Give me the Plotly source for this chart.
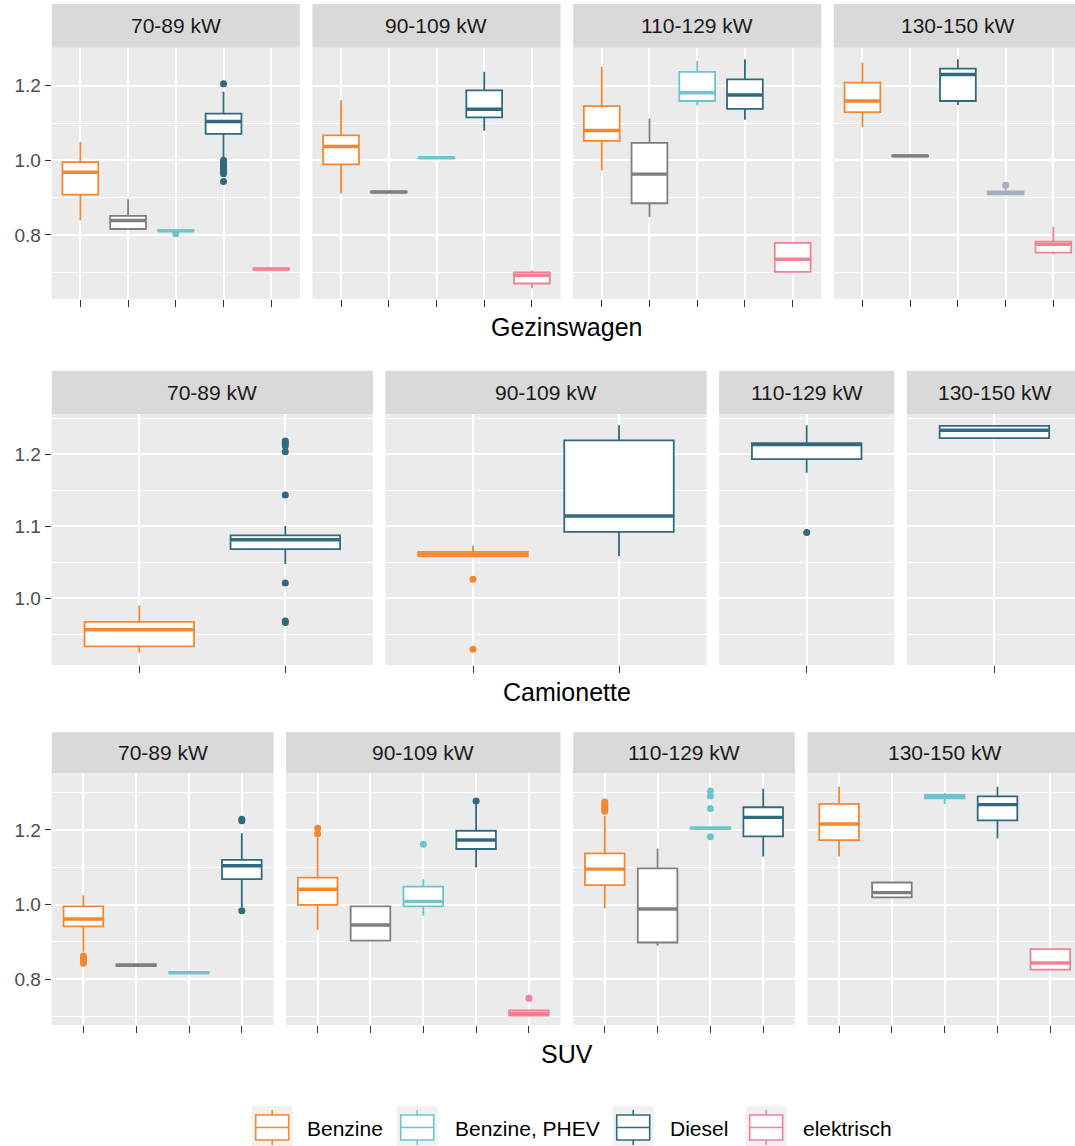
import plotly.graph_objects as go

# ---------------------------------------------------------------- data
POWER_BANDS = ["70-89 kW", "90-109 kW", "110-129 kW", "130-150 kW"]
VEHICLE_CLASSES = ["Gezinswagen", "Camionette", "SUV"]

FUEL_COLORS = {
    "Benzine": "#F7872E",
    "Benzine, PHEV": "#6CC4D3",
    "Diesel": "#2F6A80",
    "elektrisch": "#F48092",
    "overig": "#7F7F7F",
    "overig, diesel": "#A3AFBD",
}
LEGEND_FUELS = ["Benzine", "Benzine, PHEV", "Diesel", "elektrisch"]

# Gezinswagen
GEZ_PANEL = [0, 0, 0, 0, 0, 1, 1, 1, 1, 1, 2, 2, 2, 2, 2, 3, 3, 3, 3, 3]
GEZ_FUEL = ["Benzine", "overig", "Benzine, PHEV", "Diesel", "elektrisch",
            "Benzine", "overig", "Benzine, PHEV", "Diesel", "elektrisch",
            "Benzine", "overig", "Benzine, PHEV", "Diesel", "elektrisch",
            "Benzine", "overig", "Diesel", "overig, diesel", "elektrisch"]
GEZ_LO = [0.839, 0.816, 0.811, 1.004, 0.708, 0.911, 0.914, 1.006, 1.079, 0.657,
          0.973, 0.848, 1.147, 1.109, 0.701, 1.089, 1.011, 1.148, 0.909, 0.748]
GEZ_Q1 = [0.908, 0.816, 0.811, 1.071, 0.708, 0.989, 0.914, 1.006, 1.115, 0.670,
          1.052, 0.885, 1.159, 1.138, 0.701, 1.129, 1.011, 1.159, 0.909, 0.753]
GEZ_MED = [0.968, 0.839, 0.811, 1.104, 0.709, 1.037, 0.915, 1.007, 1.137, 0.692,
           1.080, 0.963, 1.181, 1.175, 0.735, 1.159, 1.012, 1.230, 0.913, 0.775]
GEZ_Q3 = [0.995, 0.851, 0.812, 1.125, 0.710, 1.067, 0.916, 1.008, 1.1875, 0.700,
          1.145, 1.047, 1.237, 1.217, 0.779, 1.208, 1.013, 1.246, 0.917, 0.782]
GEZ_HI = [1.049, 0.896, 0.812, 1.184, 0.710, 1.161, 0.916, 1.008, 1.2375, 0.705,
          1.251, 1.112, 1.266, 1.271, 0.779, 1.262, 1.013, 1.271, 0.928, 0.822]
GEZ_OUT = [[], [], [0.803],
           [1.205, 1.000, 0.996, 0.992, 0.988, 0.984, 0.980, 0.976, 0.972, 0.968, 0.964, 0.943],
           [], [], [], [], [], [],
           [], [], [], [], [],
           [], [], [], [0.933], []]

# Camionette
CAM_PANEL = [0, 0, 1, 1, 2, 3]
CAM_FUEL = ["Benzine", "Diesel", "Benzine", "Diesel", "Diesel", "Diesel"]
CAM_LO = [0.924, 1.047, 1.058, 1.058, 1.174, 1.222]
CAM_Q1 = [0.933, 1.068, 1.058, 1.092, 1.193, 1.222]
CAM_MED = [0.956, 1.081, 1.061, 1.114, 1.213, 1.233]
CAM_Q3 = [0.967, 1.087, 1.064, 1.219, 1.215, 1.239]
CAM_HI = [0.990, 1.100, 1.073, 1.240, 1.240, 1.239]
CAM_OUT = [[], [1.218, 1.215, 1.211, 1.203, 1.143, 1.021, 0.968, 0.966],
           [1.026, 0.929], [], [1.091], []]

# SUV
SUV_PANEL = [0, 0, 0, 0, 1, 1, 1, 1, 1, 2, 2, 2, 2, 3, 3, 3, 3, 3]
SUV_FUEL = ["Benzine", "overig", "Benzine, PHEV", "Diesel",
            "Benzine", "overig", "Benzine, PHEV", "Diesel", "elektrisch",
            "Benzine", "overig", "Benzine, PHEV", "Diesel",
            "Benzine", "overig", "Benzine, PHEV", "Diesel", "elektrisch"]
SUV_LO = [0.873, 0.835, 0.815, 0.993, 0.931, 0.903, 0.970, 1.099, 0.702,
          0.989, 0.889, 1.203, 1.129, 1.129, 1.019, 1.269, 1.177, 0.825]
SUV_Q1 = [0.941, 0.835, 0.815, 1.068, 0.999, 0.903, 0.995, 1.149, 0.702,
          1.052, 0.898, 1.203, 1.183, 1.173, 1.019, 1.285, 1.226, 0.825]
SUV_MED = [0.961, 0.837, 0.817, 1.104, 1.041, 0.945, 1.008, 1.173, 0.708,
           1.095, 0.988, 1.205, 1.234, 1.216, 1.032, 1.289, 1.268, 0.843]
SUV_Q3 = [0.995, 0.839, 0.819, 1.120, 1.072, 0.995, 1.048, 1.198, 0.716,
          1.137, 1.097, 1.207, 1.261, 1.270, 1.059, 1.294, 1.290, 0.880]
SUV_HI = [1.025, 0.839, 0.819, 1.191, 1.180, 0.995, 1.068, 1.272, 0.716,
          1.238, 1.150, 1.207, 1.311, 1.316, 1.059, 1.299, 1.316, 0.880]
SUV_OUT = [[0.862, 0.857, 0.852, 0.847, 0.842], [], [], [1.229, 1.225, 0.983],
           [1.205, 1.190], [], [1.162], [1.278], [0.748],
           [1.275, 1.270, 1.265, 1.260, 1.255, 1.250], [], [1.305, 1.291, 1.258, 1.182], [],
           [], [], [], [], []]

ROW_DATA = [
    (GEZ_PANEL, GEZ_FUEL, GEZ_LO, GEZ_Q1, GEZ_MED, GEZ_Q3, GEZ_HI, GEZ_OUT),
    (CAM_PANEL, CAM_FUEL, CAM_LO, CAM_Q1, CAM_MED, CAM_Q3, CAM_HI, CAM_OUT),
    (SUV_PANEL, SUV_FUEL, SUV_LO, SUV_Q1, SUV_MED, SUV_Q3, SUV_HI, SUV_OUT),
]

ROW_YRANGE = [[0.6285, 1.3018], [0.907, 1.2556], [0.6765, 1.3522]]
ROW_YMAJOR = [[0.8, 1.0, 1.2], [1.0, 1.1, 1.2], [0.8, 1.0, 1.2]]
ROW_YMINOR = [[0.7, 0.9, 1.1, 1.3], [0.95, 1.05, 1.15, 1.25], [0.7, 0.9, 1.1, 1.3]]

# ---------------------------------------------------------------- geometry (px)
W, H = 1075, 1146
PANEL_LEFT, PANEL_RIGHT, PANEL_GAP = 51.7, 1082.0, 12.5
ROW_STRIP_TOP = [4.0, 370.7, 732.3]
ROW_PANEL_TOP = [47.7, 414.0, 773.3]
ROW_PANEL_BOTTOM = [299.0, 665.0, 1025.0]
ROW_TITLE_Y = [327.0, 692.0, 1054.0]

BOX_WIDTH = 0.75
BOX_LINE = 1.8
MEDIAN_LINE = 3.4

LEGEND_KEY_X = [251.7, 396.7, 612.7, 745.7]
LEGEND_TEXT_X = [305.0, 453.0, 667.7, 800.7]
LEGEND_TOP, LEGEND_KEY = 1106.0, 41.0

FONT = "Liberation Sans, Arial, sans-serif"
PANEL_BG = "#EBEBEB"
STRIP_BG = "#D9D9D9"
TICK_COL = "#333333"


def px_x(v):
    return v / W


def px_y(v):
    return 1 - v / H


fig = go.Figure()
shapes, annotations = [], []
layout_axes = {}

for r, (panel, fuel, lo, q1, med, q3, hi, out) in enumerate(ROW_DATA):
    counts = [panel.count(p) for p in range(4)]
    unit = (PANEL_RIGHT - PANEL_LEFT - 3 * PANEL_GAP) / sum(c + 0.2 for c in counts)
    x0 = PANEL_LEFT
    slot = {}
    for p in range(4):
        k = r * 4 + p + 1
        sfx = "" if k == 1 else str(k)
        x1 = x0 + (counts[p] + 0.2) * unit
        vis_x1 = min(x1, W)
        layout_axes["xaxis" + sfx] = dict(
            domain=[px_x(x0), px_x(vis_x1)], anchor="y" + sfx,
            range=[0.4, 0.4 + (vis_x1 - x0) / unit],
            tickmode="array", tickvals=list(range(1, counts[p] + 1)),
            showticklabels=False, ticks="outside", ticklen=7, tickwidth=1.4,
            tickcolor=TICK_COL, showgrid=True, gridcolor="white", gridwidth=2,
            zeroline=False, showline=False, fixedrange=True,
        )
        first = p == 0
        layout_axes["yaxis" + sfx] = dict(
            domain=[px_y(ROW_PANEL_BOTTOM[r]), px_y(ROW_PANEL_TOP[r])],
            anchor="x" + sfx, range=ROW_YRANGE[r],
            tickmode="array", tickvals=ROW_YMAJOR[r],
            ticktext=[f"{v:.1f}" for v in ROW_YMAJOR[r]],
            showticklabels=first, ticks="outside" if first else "",
            ticklen=6, tickwidth=1.4, tickcolor=TICK_COL,
            tickfont=dict(family=FONT, size=19, color="#4D4D4D"),
            showgrid=True, gridcolor="white", gridwidth=2,
            minor=dict(tickmode="array", tickvals=ROW_YMINOR[r], showgrid=True,
                       gridcolor="white", gridwidth=1.1, ticks=""),
            zeroline=False, showline=False, fixedrange=True,
        )
        # facet strip
        shapes.append(dict(type="rect", xref="paper", yref="paper",
                           x0=px_x(x0), x1=px_x(x1),
                           y0=px_y(ROW_PANEL_TOP[r]), y1=px_y(ROW_STRIP_TOP[r]),
                           fillcolor=STRIP_BG, line=dict(width=0), layer="below"))
        annotations.append(dict(text=POWER_BANDS[p], xref="paper", yref="paper",
                                x=px_x((x0 + x1) / 2),
                                y=px_y((ROW_STRIP_TOP[r] + ROW_PANEL_TOP[r]) / 2),
                                xanchor="center", yanchor="middle", showarrow=False,
                                font=dict(family=FONT, size=21, color="#1A1A1A")))
        x0 = x1 + PANEL_GAP

    # boxes
    for i in range(len(panel)):
        p = panel[i]
        slot[p] = slot.get(p, 0) + 1
        pos = slot[p]
        k = r * 4 + p + 1
        sfx = "" if k == 1 else str(k)
        col = FUEL_COLORS[fuel[i]]
        fig.add_trace(go.Box(
            x=[pos], q1=[q1[i]], median=[med[i]], q3=[q3[i]],
            lowerfence=[lo[i]], upperfence=[hi[i]],
            width=BOX_WIDTH, whiskerwidth=0, boxpoints=False,
            fillcolor="white", line=dict(color=col, width=BOX_LINE),
            xaxis="x" + sfx, yaxis="y" + sfx, showlegend=False, hoverinfo="skip",
        ))
        fig.add_trace(go.Scatter(
            x=[pos - BOX_WIDTH / 2, pos + BOX_WIDTH / 2], y=[med[i], med[i]],
            mode="lines", line=dict(color=col, width=MEDIAN_LINE),
            xaxis="x" + sfx, yaxis="y" + sfx, showlegend=False, hoverinfo="skip",
        ))
        if out[i]:
            fig.add_trace(go.Scatter(
                x=[pos] * len(out[i]), y=out[i], mode="markers",
                marker=dict(color=col, size=7, line=dict(width=0)),
                xaxis="x" + sfx, yaxis="y" + sfx, showlegend=False, hoverinfo="skip",
            ))

    annotations.append(dict(text=VEHICLE_CLASSES[r], xref="paper", yref="paper",
                            x=px_x((PANEL_LEFT + PANEL_RIGHT) / 2), y=px_y(ROW_TITLE_Y[r]),
                            xanchor="center", yanchor="middle", showarrow=False,
                            font=dict(family=FONT, size=25, color="black")))

# legend drawn as ggplot-style keys
for i, f in enumerate(LEGEND_FUELS):
    col = FUEL_COLORS[f]
    kx = LEGEND_KEY_X[i]
    cx = kx + LEGEND_KEY / 2
    shapes.append(dict(type="rect", xref="paper", yref="paper",
                       x0=px_x(kx), x1=px_x(kx + LEGEND_KEY),
                       y0=px_y(LEGEND_TOP + LEGEND_KEY), y1=px_y(LEGEND_TOP),
                       fillcolor="#F2F2F2", line=dict(width=0)))
    shapes.append(dict(type="line", xref="paper", yref="paper",
                       x0=px_x(cx), x1=px_x(cx),
                       y0=px_y(LEGEND_TOP + 39), y1=px_y(LEGEND_TOP + 4),
                       line=dict(color=col, width=1.6)))
    shapes.append(dict(type="rect", xref="paper", yref="paper",
                       x0=px_x(kx + 4), x1=px_x(kx + 37),
                       y0=px_y(LEGEND_TOP + 34), y1=px_y(LEGEND_TOP + 9),
                       fillcolor="white", line=dict(color=col, width=1.6)))
    shapes.append(dict(type="line", xref="paper", yref="paper",
                       x0=px_x(kx + 4), x1=px_x(kx + 37),
                       y0=px_y(LEGEND_TOP + 21.5), y1=px_y(LEGEND_TOP + 21.5),
                       line=dict(color=col, width=1.6)))
    annotations.append(dict(text=f, xref="paper", yref="paper",
                            x=px_x(LEGEND_TEXT_X[i]), y=px_y(LEGEND_TOP + 22),
                            xanchor="left", yanchor="middle", showarrow=False,
                            font=dict(family=FONT, size=21, color="black")))

fig.update_layout(
    width=W, height=H, margin=dict(l=0, r=0, t=0, b=0),
    paper_bgcolor="white", plot_bgcolor=PANEL_BG,
    showlegend=False, boxmode="overlay",
    shapes=shapes, annotations=annotations,
    font=dict(family=FONT),
    **layout_axes,
)

fig.write_html("out.html")
